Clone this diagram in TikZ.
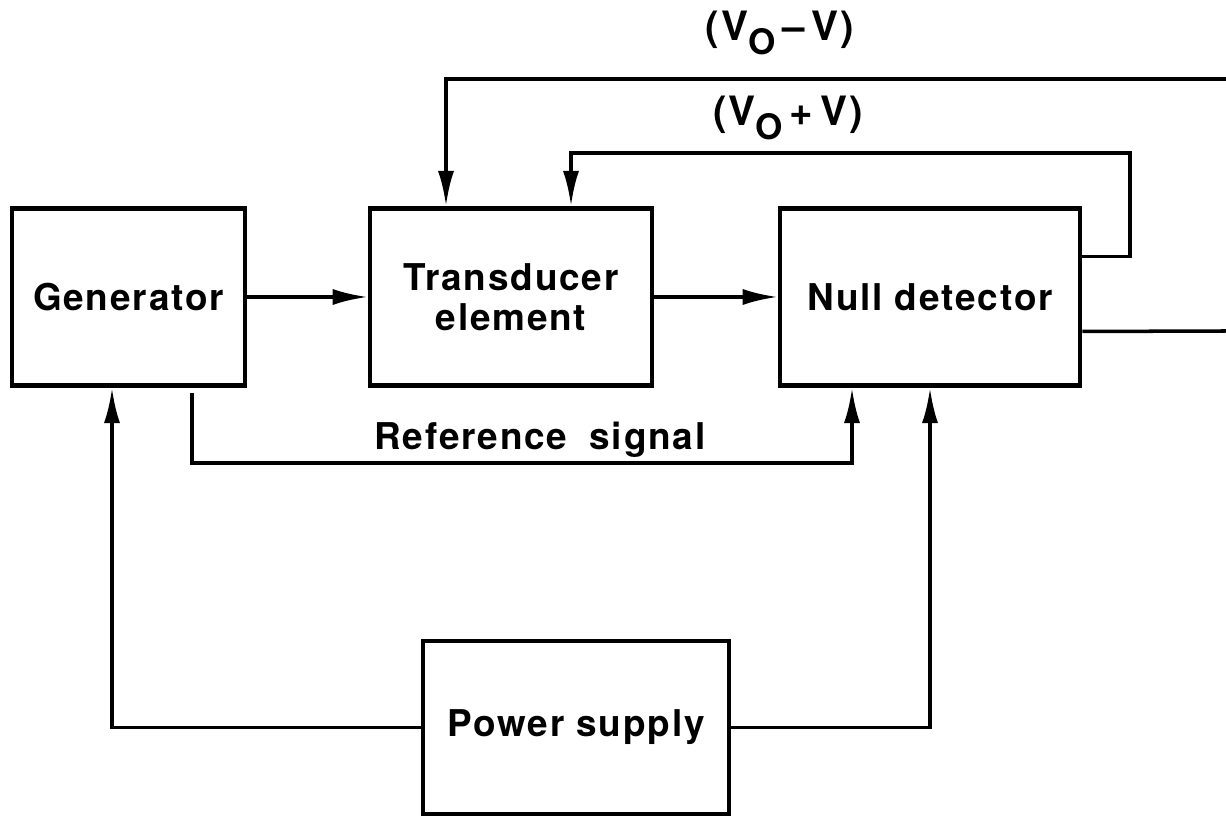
\documentclass[tikz,border=0pt]{standalone}
\usepackage{fontspec}
\setmainfont{TeX Gyre Heros}[LetterSpace=5]
\usepackage{tikz}
\usetikzlibrary{arrows.meta,positioning,calc}
\newcommand{\subO}{\raisebox{-0.6ex}{\fontsize{20}{20}\selectfont O}}

\begin{document}
\begin{tikzpicture}[
    box/.style={draw,line width=2.6pt,minimum height=3.55cm,align=center,
                font=\fontsize{21}{23}\selectfont\bfseries,inner sep=0pt},
    arr/.style={-{Latex[length=7mm,width=3.2mm]},line width=2pt},
    wire/.style={line width=2pt},
    lbl/.style={font=\fontsize{23}{25}\selectfont\bfseries}
  ]
    \useasboundingbox (0,0) rectangle (24.52,16.32);
    \node[box,minimum width=4.66cm] (gen) at (2.57,10.38) {Generator};
    \node[box,minimum width=5.64cm] (trans) at (10.22,10.38) {Transducer\\element};
    \node[box,minimum width=6.0cm] (null) at (18.6,10.38) {Null detector};
    \node[box,minimum width=6.12cm,minimum height=3.46cm] (pwr) at (11.52,1.77) {Power supply};
    \coordinate (vmin) at (24.52,14.74);
    \coordinate (vpbend) at (22.6,13.26);
    \coordinate (nullout) at (24.52,9.70);
    \coordinate (refstart) at (3.84,8.46);
    \coordinate (refbend) at (17.04,7.06);
    \node[lbl] (vmlbl) at (15.6,15.66) {(V\subO\,--\,V)};
    \node[lbl] (vplbl) at (15.76,13.96) {(V\subO\,+\,V)};
    \draw[arr] (gen.east) -- (trans.west);
    \draw[arr] (trans.east) -- (null.west);
    \draw[arr] (vmin) -| ([xshift=-1.3cm]trans.north);
    \draw[arr] ([yshift=0.81cm]null.east) -| (vpbend) -| ([xshift=1.2cm]trans.north);
    \draw[wire] ([yshift=-0.69cm]null.east) -- (nullout);
    \draw[arr] (refstart) -- (refstart |- refbend)
      -- node[lbl,font=\fontsize{21}{23}\selectfont\bfseries,above,inner sep=2pt,pos=0.527]
           {Reference\hspace{0.6em}signal} (refbend)
      -- (null.south -| refbend);
    \draw[arr] (pwr.west) -| ([xshift=-0.33cm]gen.south);
    \draw[arr] (pwr.east) -| (null.south);
\end{tikzpicture}
\end{document}
